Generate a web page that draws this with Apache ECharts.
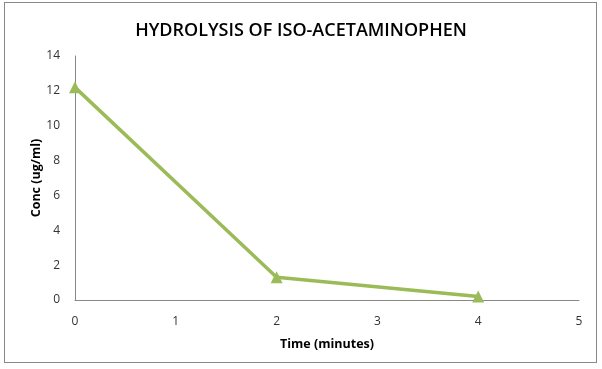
<!DOCTYPE html>
<html><head><meta charset="utf-8">
<script src="https://cdn.jsdelivr.net/npm/echarts@6/dist/echarts.min.js"></script>
<style>html,body{margin:0;padding:0;background:#fff}#c{width:602px;height:369px}
#frame{position:absolute;left:4px;top:2px;width:593px;height:361px;border:1px solid #888;box-sizing:border-box;pointer-events:none}</style>
</head><body><div id="c"></div><div id="frame"></div>
<script>
const times = [0, 2, 4];
const conc = [12.2, 1.3, 0.2];
const xTicks = [0, 1, 2, 3, 4, 5];
const yTicks = [0, 2, 4, 6, 8, 10, 12, 14];
const titleText = 'HYDROLYSIS OF ISO-ACETAMINOPHEN';
const xName = 'Time (minutes)';
const yName = 'Conc (ug/ml)';

const chart = echarts.init(document.getElementById('c'));
chart.setOption({
  animation: false,
  title: {text: titleText, left: 'center', top: 17,
    textStyle: {fontFamily: 'Open Sans', fontSize: 18, fontWeight: 600, color: '#000'}},
  grid: {left: 75, right: 23, top: 56, bottom: 69},
  graphic: [{type: 'text', x: 36, y: 178, rotation: Math.PI / 2,
    style: {text: yName, fontFamily: 'Open Sans', fontSize: 12.5, fontWeight: 'bold', fill: '#000',
      align: 'center', verticalAlign: 'middle'}}],
  xAxis: {type: 'value', min: xTicks[0], max: xTicks[xTicks.length-1], interval: 1,
    name: xName, nameLocation: 'middle', nameGap: 38,
    nameTextStyle: {fontFamily: 'Open Sans', fontSize: 12.5, fontWeight: 'bold', color: '#000'},
    axisLine: {lineStyle: {color: '#888', width: 1}},
    axisTick: {show: false}, splitLine: {show: false},
    axisLabel: {fontFamily: 'Open Sans', fontSize: 12, color: '#333', margin: 16}},
  yAxis: {type: 'value', min: yTicks[0], max: yTicks[yTicks.length-1], interval: 2,
    axisLine: {show: true, lineStyle: {color: '#888', width: 1}},
    axisTick: {show: false}, splitLine: {show: false},
    axisLabel: {fontFamily: 'Open Sans', fontSize: 12, color: '#333', margin: 15}},
  series: [{type: 'line', data: times.map((t,i)=>[t, conc[i]]),
    symbol: 'triangle', symbolSize: 12, showSymbol: true,
    lineStyle: {color: '#9BBB59', width: 3.5},
    itemStyle: {color: '#9BBB59'}}]
});
</script></body></html>
